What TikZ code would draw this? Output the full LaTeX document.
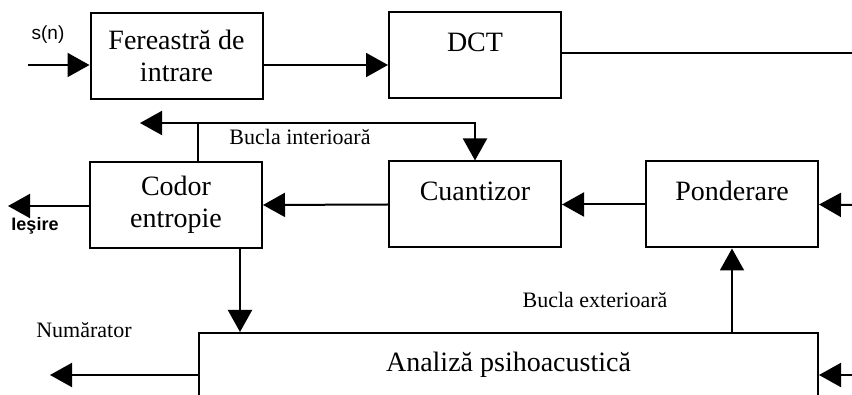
\documentclass[tikz,border=0pt]{standalone}
\usepackage{fontspec}
\setmainfont{Liberation Serif}
\newfontfamily\sansmic{Liberation Sans}
\usepackage{tikz}
\usetikzlibrary{arrows.meta,positioning,calc}

\begin{document}
\begin{tikzpicture}[x=1pt,y=-1pt,
  bloc/.style={draw,line width=2pt,minimum width=172pt,minimum height=86pt,inner sep=0pt,align=center,font=\fontsize{28}{32}\selectfont},
  unrand/.style={text height=20pt,text depth=27pt},
  sag/.style={line width=2pt,-{Triangle[length=22pt,width=24pt]}},
  fir/.style={line width=2pt},
  eticheta/.style={font=\fontsize{22}{24}\selectfont},
  mic/.style={font=\sansmic\fontsize{19}{21}\selectfont}]
  \useasboundingbox (0,0) rectangle (852,395);
  \clip (0,0) rectangle (852,395); % blocul de analiza iese sub margine
  % blocurile
  \node[bloc] (fer) at (176.5,56) {Fereastră de\\intrare};
  \node[bloc,unrand] (dct) at (475,55.5) {DCT};
  \node[bloc] (cod) at (176,205) {Codor\\entropie};
  \node[bloc,unrand] (cua) at (475,204.5) {Cuantizor};
  \node[bloc,unrand] (pon) at (732,204.5) {Ponderare};
  \node[bloc,anchor=north west,minimum width=619pt,text height=39pt,text depth=69pt] (ana) at (198,332) {Analiză psihoacustică};
  % capetele libere
  \coordinate (sin) at (28,65);
  \coordinate (dout) at (852,53);
  \coordinate (jn) at (198,123); % nodul buclei interioare
  \coordinate (bst) at (140,123);
  \coordinate (iesire) at (8,206);
  \coordinate (pin) at (852,205);
  \coordinate (nout) at (50,375);
  \coordinate (ain) at (852,375);
  % legaturi
  \draw[sag] (sin) -- (sin -| fer.west);
  \draw[sag] (fer.east |- sin) -- (dct.west |- sin);
  \draw[fir] (dct.east |- dout) -- (dout);
  \draw[fir] (cod.north -| jn) -- (jn);
  \draw[sag] (jn) -- (bst);
  \draw[sag] (jn) -| (cua.north);
  \draw[sag] (cua.west) -- (cod.east);
  \draw[sag] (pon.west) -- (cua.east);
  \draw[sag] (pin) -- (pon.east);
  \draw[sag] (cod.west |- iesire) -- (iesire);
  \draw[sag] (cod.south -| 240,0) -- (ana.north -| 240,0);
  \draw[sag] (ana.north -| pon) -- (pon.south);
  \draw[sag] (ana.west |- nout) -- (nout);
  \draw[sag] (ain) -- (ain -| ana.east);
  % etichete
  \node[mic] (sn) at (48,35) {s(n)};
  \node[mic,font=\sansmic\bfseries\fontsize{18}{20}\selectfont] (ies) at (35,226) {Ieşire};
  \node[eticheta] (bi) at (300,137) {Bucla interioară};
  \node[eticheta] (be) at (595,300) {Bucla exterioară};
  \node[eticheta] (num) at (84,330) {Numărator};
\end{tikzpicture}
\end{document}
